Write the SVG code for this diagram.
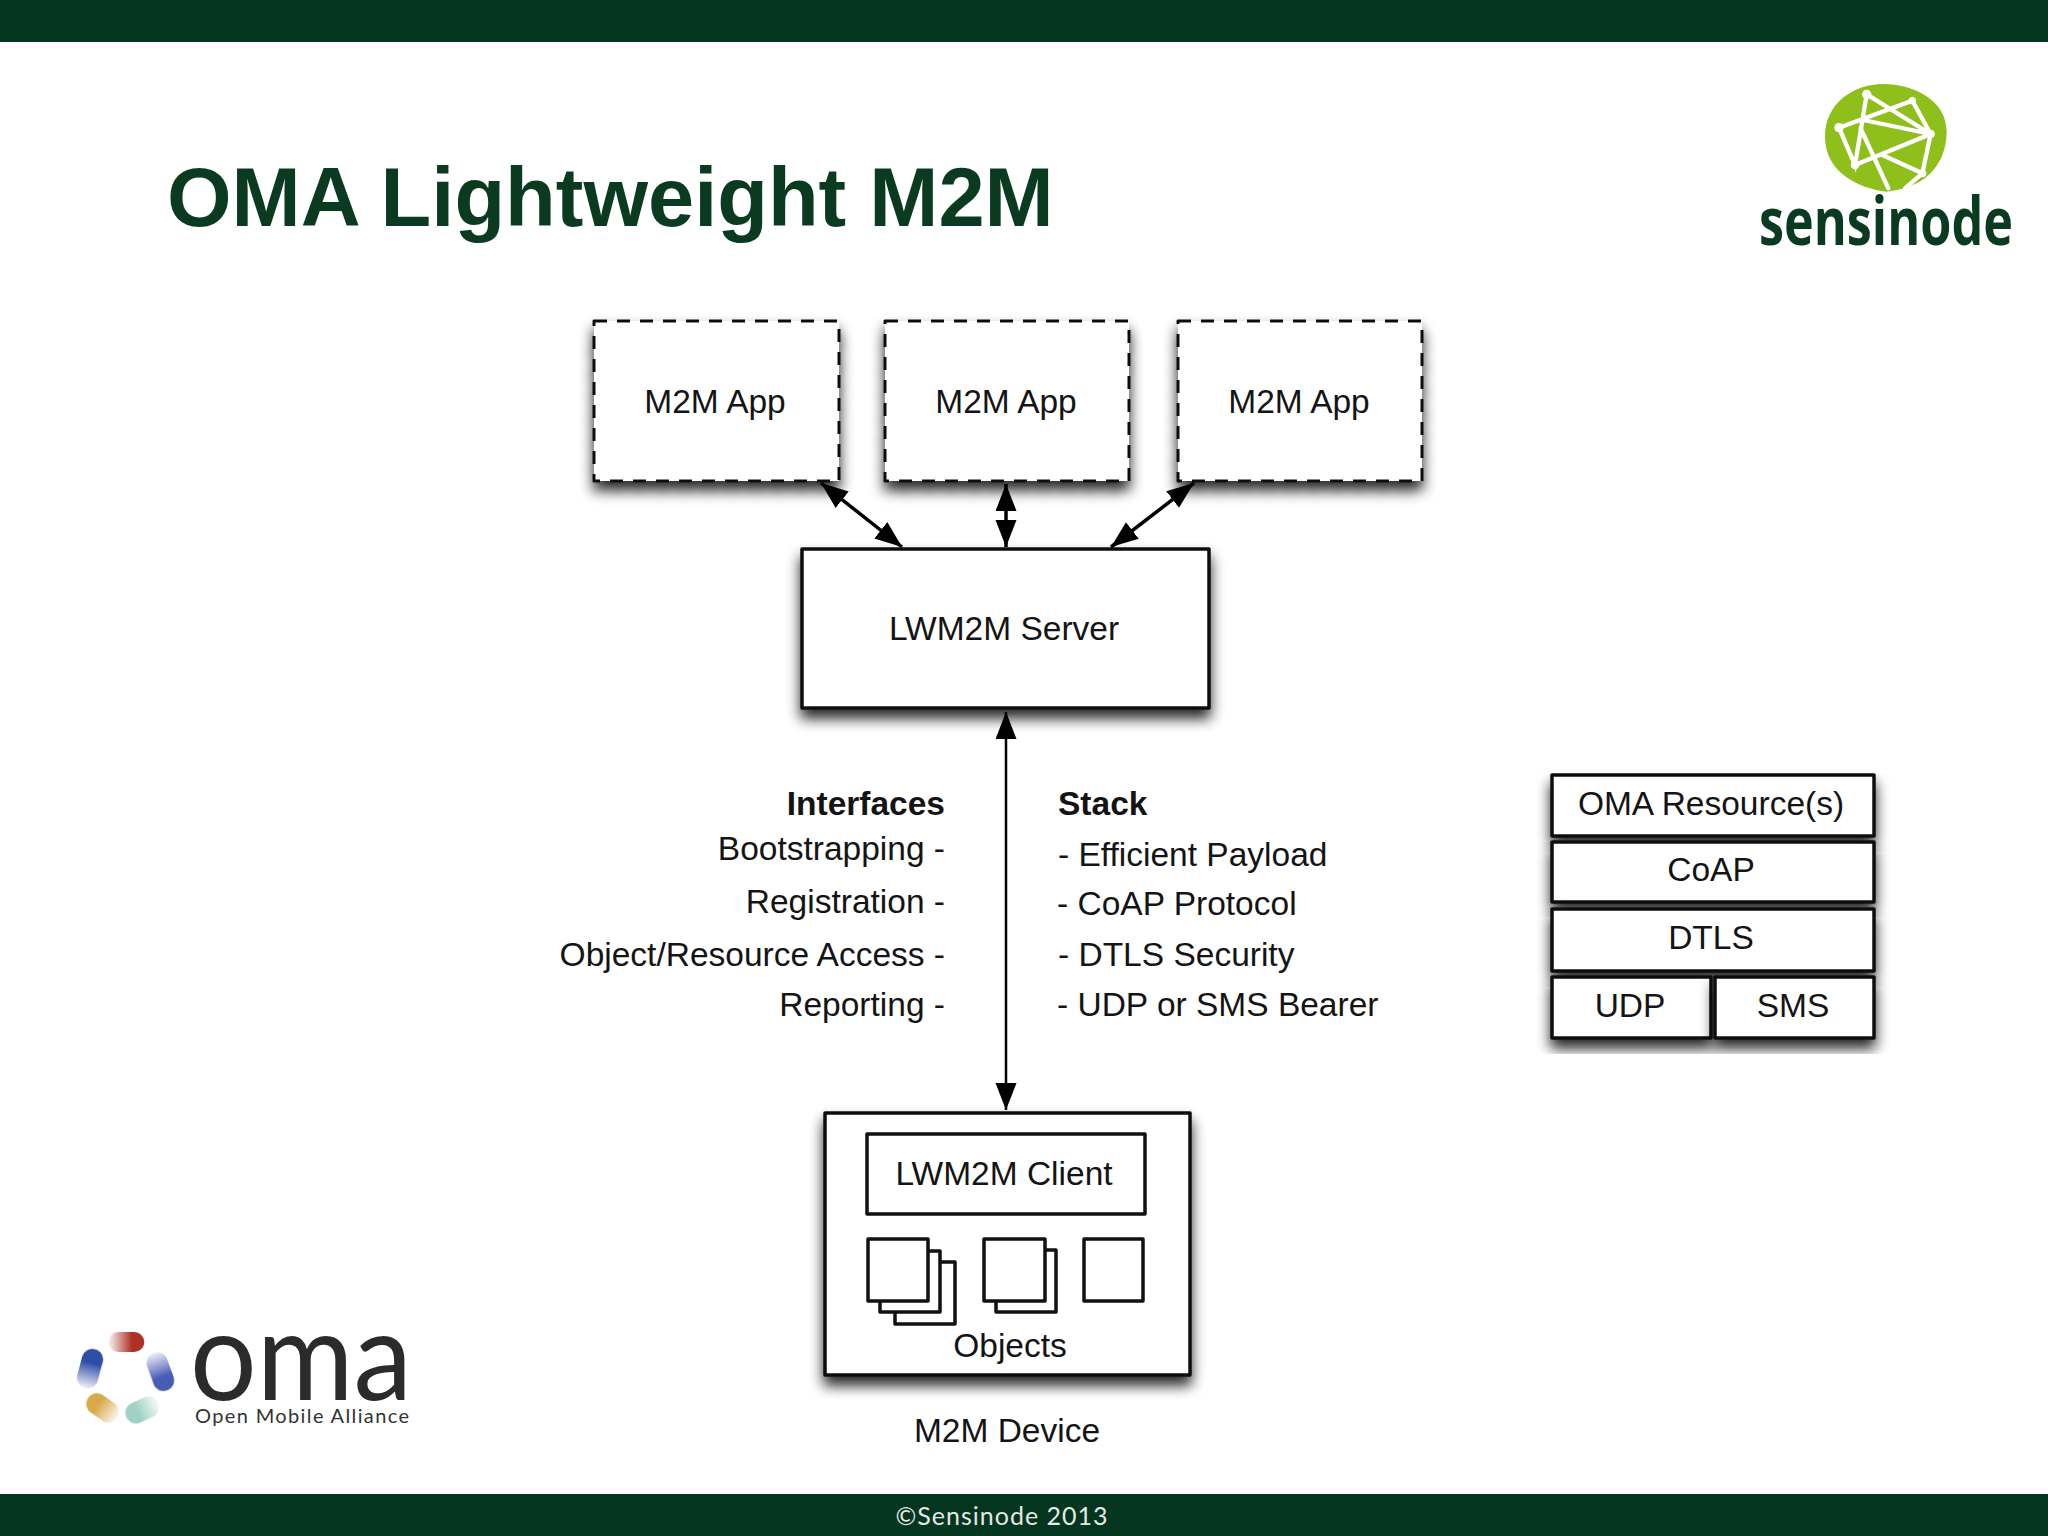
<svg xmlns="http://www.w3.org/2000/svg" width="2048" height="1536" viewBox="0 0 2048 1536">
<style>
.box{fill:#fff;stroke:#111;stroke-width:3.5;stroke-linejoin:round}
.sh{filter:url(#shadow)}
.dash{stroke-dasharray:13 10;stroke-width:3}
.t{font-family:"Liberation Sans",Arial,sans-serif;font-size:33.5px;fill:#141414;text-anchor:middle}
.r{text-anchor:end}
.l{text-anchor:start}
.b{font-weight:bold}
.link{stroke:#000;stroke-width:3.5;fill:none;marker-start:url(#ah);marker-end:url(#ah)}
.net{stroke:#fff;stroke-width:13;stroke-linecap:round;fill:none}
</style>
<defs>
<filter id="shadow" x="-15%" y="-15%" width="130%" height="140%">
<feGaussianBlur in="SourceAlpha" stdDeviation="7"/>
<feOffset dy="9"/>
<feComponentTransfer><feFuncA type="linear" slope="0.85"/></feComponentTransfer>
<feMerge><feMergeNode/><feMergeNode in="SourceGraphic"/></feMerge>
</filter>
<filter id="soft" x="-30%" y="-30%" width="160%" height="160%"><feGaussianBlur stdDeviation="1.6"/></filter>
<marker id="ah" markerUnits="userSpaceOnUse" markerWidth="28" markerHeight="22" refX="27" refY="10.5" orient="auto-start-reverse"><path d="M0 0L27 10.5L0 21Z" fill="#000"/></marker>
<linearGradient id="gr"><stop offset="0" stop-color="#b23a2c" stop-opacity="0.05"/><stop offset="0.65" stop-color="#ad3227"/></linearGradient>
<linearGradient id="gb"><stop offset="0" stop-color="#2f4ea8" stop-opacity="0.08"/><stop offset="0.65" stop-color="#2d4ea6"/></linearGradient>
<linearGradient id="gv"><stop offset="0" stop-color="#4a5cb4" stop-opacity="0.08"/><stop offset="0.65" stop-color="#4a5cb4"/></linearGradient>
<linearGradient id="gy"><stop offset="0.35" stop-color="#d8aa4c"/><stop offset="1" stop-color="#d8aa4c" stop-opacity="0.1"/></linearGradient>
<linearGradient id="gt"><stop offset="0.35" stop-color="#9fd2c4"/><stop offset="1" stop-color="#9fd2c4" stop-opacity="0.1"/></linearGradient>
</defs>
<rect width="2048" height="1536" fill="#fff"/>
<rect id="top-bar" width="2048" height="42" fill="#04351f"/>
<rect id="bottom-bar" y="1494" width="2048" height="42" fill="#04351f"/>
<text id="title" x="167" y="226" font-family="'Liberation Sans',Arial,sans-serif" font-weight="bold" font-size="83" fill="#0a3a20">OMA Lightweight M2M</text>
<text id="footer" x="1002" y="1525" text-anchor="middle" font-family="Lato,'Open Sans',sans-serif" font-size="25" letter-spacing="1" fill="#e4e8e4">©Sensinode 2013</text>

<g id="sensinode-logo">
<g transform="translate(1720 60) scale(.33333)">
<path d="M490 72C580 72 680 120 680 215C680 290 640 345 590 370C560 385 530 392 500 395C420 385 315 340 315 230C315 130 400 72 490 72Z" fill="#8fbf1b"/>
<path class="net" d="M440 103L405 315L357 203L577 122L632 222L607 340L555 385M440 103L632 222L405 315M430 180L632 222M422 205L505 385M487 285L607 340"/>
<g fill="#fff"><circle cx="440" cy="103" r="14"/><circle cx="577" cy="122" r="11"/><circle cx="632" cy="222" r="12"/><circle cx="607" cy="340" r="12"/><circle cx="405" cy="315" r="13"/><circle cx="357" cy="203" r="14"/></g>
</g>
<text x="1759" y="245" font-family="'Open Sans','Noto Sans',sans-serif" font-weight="700" font-size="66" textLength="254" lengthAdjust="spacingAndGlyphs" fill="#0a3a20">sensinode</text>
</g>

<g id="oma-logo">
<g transform="translate(50 1300) scale(.33333)">
<rect x="175" y="96" width="108" height="60" rx="30" fill="url(#gr)" filter="url(#soft)"/>
<rect x="-56" y="-33" width="120" height="64" rx="32" transform="translate(120 210) rotate(-75)" fill="url(#gb)" filter="url(#soft)"/>
<rect x="-60" y="-33" width="120" height="64" rx="32" transform="translate(330 215) rotate(70)" fill="url(#gv)" filter="url(#soft)"/>
<rect x="-50" y="-33" width="105" height="64" rx="32" transform="translate(155 323) rotate(35)" fill="url(#gy)" filter="url(#soft)"/>
<rect x="-50" y="-33" width="105" height="64" rx="32" transform="translate(275 332) rotate(-25)" fill="url(#gt)" filter="url(#soft)"/>
</g>
<text x="190" y="1400" font-family="Lato,'Open Sans',sans-serif" font-size="124" textLength="222" lengthAdjust="spacingAndGlyphs" fill="#2b2b2e">oma</text>
<text x="195" y="1423" font-family="Lato,'Open Sans',sans-serif" font-size="20" textLength="214" lengthAdjust="spacing" fill="#333">Open Mobile Alliance</text>
</g>

<g id="app1"><rect class="box dash sh" x="594" y="321" width="245" height="160"/><text class="t" x="715" y="413">M2M App</text></g>
<g id="app2"><rect class="box dash sh" x="885" y="321" width="244" height="160"/><text class="t" x="1006" y="413">M2M App</text></g>
<g id="app3"><rect class="box dash sh" x="1178" y="321" width="244" height="160"/><text class="t" x="1299" y="413">M2M App</text></g>
<g id="server"><rect class="box sh" x="802" y="549" width="407" height="159"/><text class="t" x="1004" y="640">LWM2M Server</text></g>

<g id="device">
<rect class="box sh" x="825" y="1113" width="365" height="262"/>
<rect class="box" x="867" y="1134" width="278" height="80"/>
<text class="t" x="1004" y="1185">LWM2M Client</text>
<rect class="box" x="895" y="1262" width="60" height="62"/>
<rect class="box" x="880" y="1251" width="60" height="61"/>
<rect class="box" x="868" y="1239" width="60" height="62"/>
<rect class="box" x="996" y="1250" width="60" height="62"/>
<rect class="box" x="984" y="1239" width="61" height="62"/>
<rect class="box" x="1084" y="1239" width="59" height="62"/>
<text class="t" x="1010" y="1357">Objects</text>
</g>
<text id="device-label" class="t" x="1007" y="1442">M2M Device</text>

<g id="connectors">
<line class="link" x1="821" y1="483" x2="902" y2="547"/>
<line class="link" x1="1006" y1="484" x2="1006" y2="547"/>
<line class="link" x1="1194" y1="483" x2="1111" y2="547"/>
<line class="link" style="stroke-width:2.5" x1="1006" y1="712" x2="1006" y2="1110"/>
</g>

<g id="interfaces">
<text class="t r b" x="945" y="815">Interfaces</text>
<text class="t r" x="945" y="860">Bootstrapping -</text>
<text class="t r" x="945" y="913">Registration -</text>
<text class="t r" x="945" y="966">Object/Resource Access -</text>
<text class="t r" x="945" y="1016">Reporting -</text>
</g>
<g id="stack-list">
<text class="t l b" x="1058" y="815">Stack</text>
<text class="t l" x="1058" y="866">- Efficient Payload</text>
<text class="t l" x="1057" y="915">- CoAP Protocol</text>
<text class="t l" x="1058" y="966">- DTLS Security</text>
<text class="t l" x="1057" y="1016">- UDP or SMS Bearer</text>
</g>

<g id="stack">
<g id="stack-oma"><rect class="box sh" x="1552" y="775" width="322" height="61"/><text class="t" x="1711" y="815">OMA Resource(s)</text></g>
<g id="stack-coap"><rect class="box sh" x="1552" y="842" width="322" height="60"/><text class="t" x="1711" y="881">CoAP</text></g>
<g id="stack-dtls"><rect class="box sh" x="1552" y="909" width="322" height="62"/><text class="t" x="1711" y="949">DTLS</text></g>
<g id="stack-udp"><rect class="box sh" x="1552" y="977" width="159" height="61"/><text class="t" x="1630" y="1017">UDP</text></g>
<g id="stack-sms"><rect class="box sh" x="1715" y="977" width="159" height="61"/><text class="t" x="1793" y="1017">SMS</text></g>
</g>
</svg>
